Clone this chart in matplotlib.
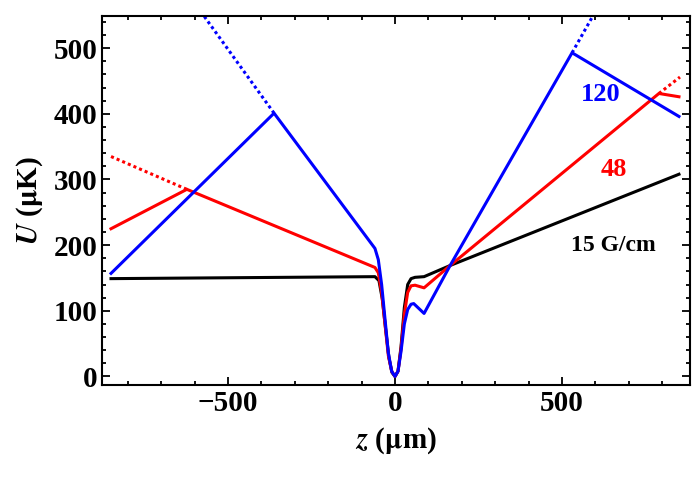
import matplotlib
matplotlib.use("Agg")
import matplotlib.pyplot as plt
from matplotlib.ticker import MultipleLocator

# Data (z in um, U in uK)
black_z = [-850, -60, -48, -38, -28, -18, -9, 0, 9, 18, 28, 38, 48, 60, 87, 165, 850]
black_u = [149, 152, 146, 118, 72, 28, 6, 0, 8, 45, 105, 140, 149, 151, 152, 169, 308]
red_z = [-850, -623, -60, -50, -40, -30, -20, -10, 0, 9, 18, 28, 38, 48, 60, 87, 165, 790, 850]
red_u = [225, 285, 166, 158, 128, 80, 32, 8, 0, 8, 42, 95, 128, 138, 139, 135, 169, 431, 426]
red_dot_l_z = [-850, -623]; red_dot_l_u = [335, 285]
red_dot_r_z = [790, 853]; red_dot_r_u = [431, 456]
blue_z = [-850, -362, -60, -50, -40, -30, -20, -10, 0, 9, 18, 28, 38, 48, 56, 87, 165, 530, 850]
blue_u = [157, 401, 195, 178, 140, 88, 36, 8, 0, 8, 38, 80, 102, 110, 111, 96, 169, 493, 396]
blue_dot_l_z = [-362, -620]; blue_dot_l_u = [401, 583]
blue_dot_r_z = [530, 620]; blue_dot_r_u = [493, 574]
labels = ["15 G/cm", "48", "120"]

plt.rcParams['font.family'] = ['Liberation Serif', 'DejaVu Serif']
plt.rcParams['mathtext.fontset'] = 'stix'
fig = plt.figure(figsize=(6.95, 4.86), dpi=100)
ax = fig.add_axes([102/695, 1-385/486, (690-102)/695, (385-16)/486])

lw = 2.2
ax.plot(black_z, black_u, color='black', lw=lw)
ax.plot(red_z, red_u, color='#ff0000', lw=lw)
ax.plot(red_dot_l_z, red_dot_l_u, color='#ff0000', lw=lw, ls=(0, (1, 1)))
ax.plot(red_dot_r_z, red_dot_r_u, color='#ff0000', lw=lw, ls=(0, (1, 1)))
ax.plot(blue_z, blue_u, color='#0000ff', lw=lw)
ax.plot(blue_dot_l_z, blue_dot_l_u, color='#0000ff', lw=lw, ls=(0, (1, 1)))
ax.plot(blue_dot_r_z, blue_dot_r_u, color='#0000ff', lw=lw, ls=(0, (1, 1)))

ax.text(655, 200, labels[0], color='black', fontsize=17, fontweight='bold', ha='center', va='center')
ax.text(655, 315, labels[1], color='#ff0000', fontsize=19, fontweight='bold', ha='center', va='center')
ax.text(615, 430, labels[2], color='#0000ff', fontsize=19, fontweight='bold', ha='center', va='center')

ax.set_xlim(-877, 883)
ax.set_ylim(-13, 549)
ax.xaxis.set_major_locator(MultipleLocator(500))
ax.xaxis.set_minor_locator(MultipleLocator(100))
ax.yaxis.set_major_locator(MultipleLocator(100))
ax.yaxis.set_minor_locator(MultipleLocator(20))
ax.tick_params(which='both', direction='in', top=True, right=True, labelsize=21, width=1.3)
ax.tick_params(which='major', length=6)
ax.tick_params(which='minor', length=3)
for lab in ax.get_xticklabels() + ax.get_yticklabels():
    lab.set_fontweight('bold')
ax.set_xticks([-500, 0, 500])
ax.set_xticklabels(['\u2212500', '0', '500'], fontweight='bold')
for s in ax.spines.values():
    s.set_linewidth(1.5)
ax.set_xlabel(r'$\boldsymbol{z}$ ($\mathbf{\mu}$m)', fontsize=21, fontweight='bold', labelpad=6)
ax.set_ylabel(r'$\boldsymbol{U}$ ($\mathbf{\mu}$K)', fontsize=21, fontweight='bold', labelpad=6)
fig.savefig('out.png', dpi=100)
